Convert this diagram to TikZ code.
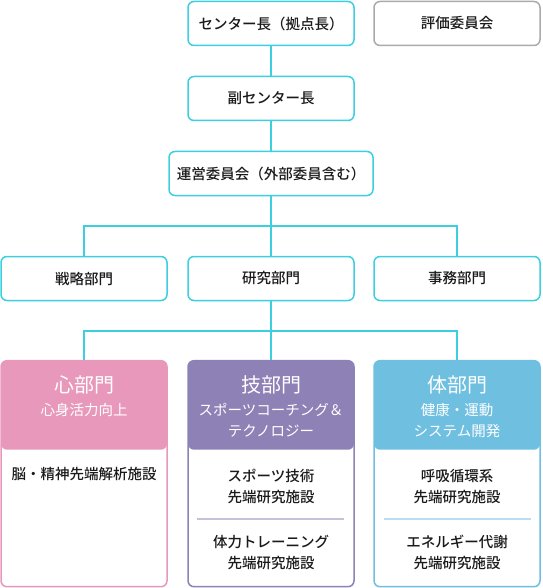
\documentclass[tikz,border=0pt]{standalone}
\usepackage{fontspec}
\setmainfont{Noto Sans CJK JP}
\newfontfamily\medfont{Noto Sans CJK JP Medium}
\usetikzlibrary{positioning}

\definecolor{linec}{HTML}{3CCFE0}
\definecolor{grayc}{HTML}{AAAAAA}
\definecolor{mindc}{HTML}{E899BB}
\definecolor{techc}{HTML}{8E81B5}
\definecolor{bodyc}{HTML}{6FBFE1}
\definecolor{textc}{HTML}{1A1A1A}

\tikzset{
  box/.style={draw=linec,line width=1.5pt,rounded corners=6pt,fill=white,
    minimum width=166pt,minimum height=44pt,inner sep=0pt,
    font=\medfont\fontsize{14.5}{21}\selectfont,text=textc},
  unit/.style={draw=#1,line width=1.5pt,rounded corners=6pt,fill=white,
    minimum width=166pt,minimum height=226pt,inner sep=0pt,
    path picture={\fill[#1] ([yshift=2pt]path picture bounding box.north west)
      rectangle ([yshift=-89pt]path picture bounding box.north east);}},
  link/.style={draw=linec,line width=1.5pt},
  headtitle/.style={text=white,font=\fontsize{20}{24}\selectfont,inner sep=0pt},
  headsub/.style={text=white,font=\fontsize{14.5}{21}\selectfont,align=center,inner sep=0pt},
  facility/.style={text=textc,font=\medfont\fontsize{14.5}{21}\selectfont,align=center,inner sep=0pt},
}

\begin{document}
\begin{tikzpicture}[x=1pt,y=-1pt]
    \useasboundingbox (0,0) rectangle (542,588);
    % top levels
    \node[box] (chief) at (271,23.5) {センター長（拠点長）};
    \node[box,draw=grayc] (review) at (457,23.5) {評価委員会};
    \node[box] (vice) at (271,98.5) {副センター長};
    \node[box,minimum width=204pt] (board) at (271,173.5) {運営委員会（外部委員含む）};
    % departments
    \node[box] (strategy) at (84,278.5) {戦略部門};
    \node[box] (research) at (271,278.5) {研究部門};
    \node[box] (office) at (457,278.5) {事務部門};
    \coordinate (busA) at (271,226);
    % research units
    \node[unit=mindc] (mind) at (84,473.7) {};
    \node[unit=techc] (tech) at (271,473.7) {};
    \node[unit=bodyc] (body) at (457,473.7) {};
    \coordinate (busB) at (271,331);

    \draw[link] (chief) -- (vice);
    \draw[link] (vice) -- (board);
    \draw[link] (board) -- (research);
    \draw[link] (strategy.north) |- (busA) -| (office.north);
    \draw[link] (research) -- (tech);
    \draw[link] (mind.north) |- (busB) -| (body.north);

    % unit headings
    \node[headtitle] (mindT) at (84,385) {心部門};
    \node[headsub] (mindS) at (84,410) {心身活力向上};
    \node[headtitle] (techT) at (271,385) {技部門};
    \node[headsub] (techS) at (271,420.5) {スポーツコーチング＆\\テクノロジー};
    \node[headtitle] (bodyT) at (457,385) {体部門};
    \node[headsub] (bodyS) at (457,420.5) {健康・運動\\システム開発};

    % facilities
    \node[facility] (brain) at (84,474) {脳・精神先端解析施設};
    \node[facility] (sport) at (271,486.5) {スポーツ技術\\先端研究施設};
    \node[facility] (train) at (271,552) {体力トレーニング\\先端研究施設};
    \node[facility] (resp) at (457,486.5) {呼吸循環系\\先端研究施設};
    \node[facility] (energy) at (457,552) {エネルギー代謝\\先端研究施設};
    \draw[techc!50,line width=1.2pt] (197,519) -- (344,519);
    \draw[bodyc!50,line width=1.2pt] (384,519) -- (531,519);
\end{tikzpicture}
\end{document}
